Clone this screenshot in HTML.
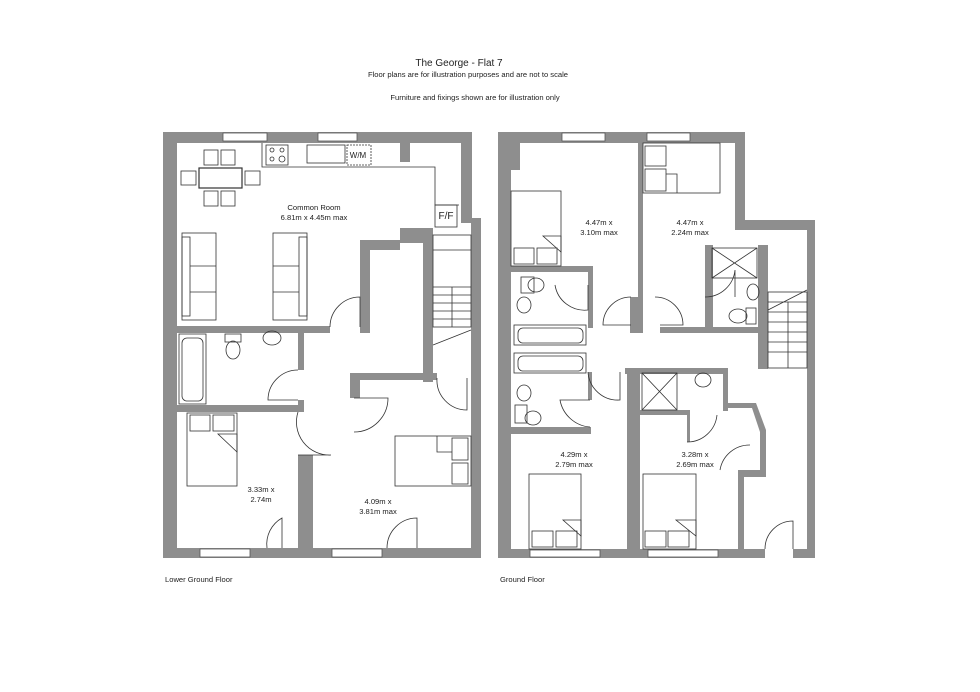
<!DOCTYPE html>
<html><head><meta charset="utf-8"><style>
html,body{margin:0;padding:0;background:#fff;}
svg{display:block;}
text{font-family:"Liberation Sans",sans-serif;fill:#222;}
</style></head><body>
<svg width="980" height="692" viewBox="0 0 980 692" xmlns="http://www.w3.org/2000/svg">
<rect width="980" height="692" fill="#fff"/>
<text x="459" y="66" font-size="10" text-anchor="middle">The George - Flat 7</text>
<text x="468" y="77" font-size="7.6" text-anchor="middle">Floor plans are for illustration purposes and are not to scale</text>
<text x="475" y="100" font-size="7.6" text-anchor="middle">Furniture and fixings shown are for illustration only</text>
<text x="165" y="582" font-size="7.6">Lower Ground Floor</text>
<text x="500" y="582" font-size="7.6">Ground Floor</text>

<!-- LEFT PLAN walls -->
<g fill="#8e8e8e">
<rect x="163" y="132" width="309" height="11"/>
<rect x="163" y="132" width="14" height="426"/>
<rect x="163" y="548" width="318" height="10"/>
<rect x="461" y="132" width="11" height="88"/>
<rect x="461" y="218" width="20" height="5"/>
<rect x="471" y="218" width="10" height="340"/>
<rect x="400" y="132" width="10" height="30"/>
<rect x="177" y="326" width="153" height="7"/>
<rect x="360" y="243" width="10" height="90"/>
<rect x="360" y="240" width="40" height="10"/>
<rect x="400" y="228" width="33" height="15"/>
<rect x="423" y="243" width="10" height="139"/>
<rect x="298" y="333" width="6" height="37"/>
<rect x="298" y="400" width="6" height="12"/>
<rect x="177" y="405" width="127" height="7"/>
<rect x="298" y="455" width="15" height="93"/>
<rect x="350" y="373" width="87" height="7"/>
<rect x="350" y="373" width="10" height="25"/>
</g>
<g fill="#fff" stroke="#555" stroke-width="0.8">
<rect x="223" y="133" width="44" height="8"/>
<rect x="318" y="133" width="39" height="8"/>
<rect x="200" y="549" width="50" height="8"/>
<rect x="332" y="549" width="50" height="8"/>
</g>
<g fill="none" stroke="#333" stroke-width="0.8">
<!-- kitchen counter -->
<path d="M262 143 V167 H435 V205 H459"/>
<rect x="266" y="145" width="22" height="20"/>
<circle cx="272" cy="150" r="2"/><circle cx="282" cy="150" r="2"/><circle cx="272" cy="159" r="2"/><circle cx="282" cy="159" r="3"/>
<rect x="307" y="145" width="38" height="18"/>
<rect x="347" y="145" width="24" height="20" stroke-dasharray="2,1"/>
<rect x="435" y="205" width="22" height="22"/>
<!-- table -->
<rect x="199" y="168" width="43" height="20" stroke-width="1.2"/>
<rect x="204" y="150" width="14" height="15"/><rect x="221" y="150" width="14" height="15"/>
<rect x="204" y="191" width="14" height="15"/><rect x="221" y="191" width="14" height="15"/>
<rect x="181" y="171" width="15" height="14"/><rect x="245" y="171" width="15" height="14"/>
<!-- sofas -->
<rect x="182" y="233" width="34" height="87"/><rect x="182" y="237" width="8" height="79"/>
<line x1="190" y1="266" x2="216" y2="266"/><line x1="190" y1="292" x2="216" y2="292"/>
<rect x="273" y="233" width="34" height="87"/><rect x="299" y="237" width="8" height="79"/>
<line x1="273" y1="266" x2="299" y2="266"/><line x1="273" y1="292" x2="299" y2="292"/>
<!-- bath -->
<rect x="179" y="334" width="27" height="70"/><rect x="182" y="338" width="21" height="63" rx="5"/>
<rect x="225" y="334" width="16" height="8"/><ellipse cx="233" cy="350" rx="7" ry="9"/>
<ellipse cx="272" cy="338" rx="9" ry="7"/>
<!-- bed 1 -->
<rect x="187" y="413" width="50" height="73"/>
<rect x="190" y="415" width="20" height="16"/><rect x="213" y="415" width="21" height="16"/>
<path d="M218 434 H237 V452 Z"/>
<!-- bed 2 -->
<rect x="395" y="436" width="76" height="50"/>
<rect x="452" y="438" width="16" height="22"/><rect x="452" y="463" width="16" height="21"/>
<path d="M437 436 V452 H452"/>
<!-- doors -->
<path d="M330 327 A30 30 0 0 1 360 297 V327"/>
<path d="M298 370 A30 30 0 0 0 268 400 H298"/>
<path d="M298 412 A33 33 0 0 0 331 455 L298 455"/>
<path d="M354 398 H388 A34 34 0 0 1 354 432"/>
<path d="M267 548 A30 30 0 0 1 282 518 V548"/>
<path d="M387 548 A30 30 0 0 1 417 518 V548"/>
<path d="M437 378 A30 30 0 0 0 467 410 V378"/>
<!-- stairs -->
<rect x="433" y="235" width="38" height="92"/>
<path d="M433 250 H471 M433 287 H471 M433 295 H471 M433 303 H471 M433 311 H471 M433 319 H471 M452 287 V327 M433 345 L471 330"/>
</g>
<g font-size="7.6" text-anchor="middle">
<text x="314" y="210">Common Room</text>
<text x="314" y="220">6.81m x 4.45m max</text>
<text x="446" y="219" font-family="Liberation Serif" font-size="10">F/F</text>
<text x="358" y="158" font-family="Liberation Serif" font-size="8">W/M</text>
<text x="261" y="492">3.33m x</text>
<text x="261" y="502">2.74m</text>
<text x="378" y="504">4.09m x</text>
<text x="378" y="514">3.81m max</text>
</g>

<!-- RIGHT PLAN walls -->
<g fill="#8e8e8e">
<rect x="498" y="132" width="247" height="11"/>
<rect x="498" y="132" width="13" height="426"/>
<rect x="498" y="132" width="22" height="38"/>
<rect x="735" y="132" width="10" height="98"/>
<rect x="735" y="220" width="80" height="10"/>
<rect x="807" y="220" width="8" height="338"/>
<rect x="498" y="549" width="267" height="9"/>
<rect x="793" y="549" width="22" height="9"/>
<rect x="638" y="143" width="5" height="190"/>
<rect x="630" y="297" width="8" height="36"/>
<rect x="630" y="327" width="8" height="6"/>
<rect x="660" y="327" width="108" height="6"/>
<rect x="511" y="266" width="80" height="6"/>
<rect x="588" y="266" width="5" height="62"/>
<rect x="705" y="245" width="8" height="88"/>
<rect x="758" y="245" width="10" height="124"/>
<rect x="625" y="368" width="102" height="6"/>
<rect x="627" y="368" width="13" height="190"/>
<rect x="723" y="368" width="5" height="43"/>
<path d="M723 408 L752 408 L760 432 L760 470 L738 470 L738 550 L744 550 L744 477 L766 477 L766 430 L756 403 L723 403 Z"/>
<rect x="640" y="410" width="50" height="5"/>
<rect x="687" y="410" width="3" height="32"/>
<rect x="511" y="427" width="80" height="7"/>
<rect x="588" y="372" width="4" height="28"/>
</g>
<g fill="#fff" stroke="#555" stroke-width="0.8">
<rect x="562" y="133" width="43" height="8"/>
<rect x="647" y="133" width="43" height="8"/>
<rect x="530" y="550" width="70" height="7"/>
<rect x="648" y="550" width="70" height="7"/>
</g>
<g fill="none" stroke="#333" stroke-width="0.8">
<rect x="511" y="191" width="50" height="75"/>
<rect x="514" y="248" width="20" height="16"/><rect x="537" y="248" width="20" height="16"/>
<path d="M543 236 H561 V252 Z"/>
<rect x="643" y="143" width="77" height="50"/>
<rect x="645" y="146" width="21" height="20"/><rect x="645" y="169" width="21" height="22"/>
<path d="M666 174 H677 V193"/>
<rect x="712" y="248" width="45" height="30"/><path d="M712 248 L757 278 M757 248 L712 278"/>
<ellipse cx="753" cy="292" rx="6" ry="8"/><ellipse cx="738" cy="316" rx="9" ry="7"/><rect x="746" y="308" width="10" height="16"/>
<rect x="521" y="277" width="13" height="16"/><ellipse cx="536" cy="285" rx="8" ry="7"/>
<ellipse cx="524" cy="305" rx="7" ry="8"/>
<rect x="514" y="325" width="72" height="20"/><rect x="518" y="328" width="65" height="15" rx="5"/>
<rect x="514" y="353" width="72" height="20"/><rect x="518" y="356" width="65" height="15" rx="5"/>
<ellipse cx="524" cy="393" rx="7" ry="8"/>
<rect x="515" y="405" width="12" height="18"/><ellipse cx="533" cy="418" rx="8" ry="7"/>
<rect x="642" y="373" width="35" height="37"/><path d="M642 373 L677 410 M677 373 L642 410"/>
<ellipse cx="703" cy="380" rx="8" ry="7"/>
<rect x="529" y="474" width="52" height="75"/>
<rect x="532" y="531" width="21" height="16"/><rect x="556" y="531" width="21" height="16"/>
<path d="M563 520 H581 V536 Z"/>
<rect x="643" y="474" width="53" height="75"/>
<rect x="645" y="531" width="21" height="16"/><rect x="668" y="531" width="21" height="16"/>
<path d="M676 520 H696 V536 Z"/>
<path d="M631 297 A28 28 0 0 0 603 325 H631"/>
<path d="M655 297 A28 28 0 0 1 683 325 H660"/>
<path d="M555 285 A30 30 0 0 0 588 310 V285"/>
<path d="M588 372 A30 30 0 0 0 620 400 V372"/>
<path d="M590 427 A33 33 0 0 1 560 400 H590"/>
<path d="M687 442 A30 30 0 0 0 717 415"/>
<path d="M705 297 A30 30 0 0 0 735 270 V297"/>
<path d="M720 470 A30 30 0 0 1 750 445"/>
<path d="M765 549 A28 28 0 0 1 793 521 V549"/>
<rect x="768" y="292" width="39" height="76"/>
<path d="M768 302 H807 M768 312 H807 M768 322 H807 M768 332 H807 M768 342 H807 M768 352 H807 M788 302 V368 M768 310 L807 290"/>
</g>
<g font-size="7.6" text-anchor="middle">
<text x="599" y="225">4.47m x</text>
<text x="599" y="235">3.10m max</text>
<text x="690" y="225">4.47m x</text>
<text x="690" y="235">2.24m max</text>
<text x="574" y="457">4.29m x</text>
<text x="574" y="467">2.79m max</text>
<text x="695" y="457">3.28m x</text>
<text x="695" y="467">2.69m max</text>
</g>
</svg>
</body></html>
